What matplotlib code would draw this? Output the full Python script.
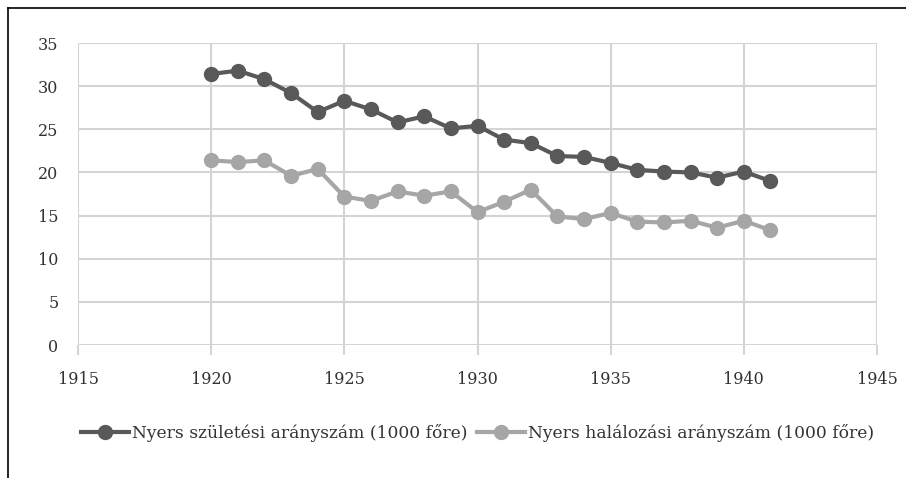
import matplotlib
matplotlib.use("Agg")
import matplotlib.pyplot as plt
from matplotlib.lines import Line2D

years = list(range(1920, 1942))
births = [31.4, 31.8, 30.8, 29.2, 27.0, 28.3, 27.3, 25.8, 26.5, 25.1, 25.4,
          23.8, 23.4, 21.9, 21.8, 21.1, 20.3, 20.1, 20.0, 19.4, 20.1, 19.0]
deaths = [21.4, 21.2, 21.4, 19.6, 20.4, 17.2, 16.7, 17.8, 17.3, 17.8, 15.4,
          16.6, 18.0, 14.9, 14.6, 15.3, 14.3, 14.2, 14.4, 13.6, 14.4, 13.3]
label_births = "Nyers születési arányszám (1000 főre)"
label_deaths = "Nyers halálozási arányszám (1000 főre)"
xticks = [1915, 1920, 1925, 1930, 1935, 1940, 1945]
yticks = [0, 5, 10, 15, 20, 25, 30, 35]

plt.rcParams['font.family'] = ['DejaVu Serif']

W, H = 906, 478
fig = plt.figure(figsize=(W/100, H/100), dpi=100)
ax = fig.add_axes([78/W, 1-345/H, (877-78)/W, (345-43)/H])

grid_c = "#d4d4d4"
ax.plot(years, births, color="#595959", lw=3, marker="o", ms=10, label=label_births, zorder=3)
ax.plot(years, deaths, color="#a6a6a6", lw=3, marker="o", ms=10, label=label_deaths, zorder=3)

ax.set_xlim(1915, 1945)
ax.set_ylim(0, 35)
ax.set_xticks(xticks)
ax.set_yticks(yticks)
ax.grid(True, color=grid_c, lw=1.5)
for s in ax.spines.values():
    s.set_visible(False)
ax.tick_params(axis='y', length=0, pad=14, labelsize=11.5, labelcolor="#333333")
ax.tick_params(axis='x', length=7, width=1.5, color=grid_c, pad=12, labelsize=11.5, labelcolor="#333333")

leg = ax.legend(loc="upper center", bbox_to_anchor=(0.5, -0.21), ncol=2, frameon=False,
                fontsize=12.3, handlelength=2.8, columnspacing=0.6, handletextpad=0.15,
                labelcolor="#333333")

fig.add_artist(Line2D([8/W, 8/W], [0, 1-8/H], color="black", lw=1.2, transform=fig.transFigure))
fig.add_artist(Line2D([8/W, 1], [1-8/H, 1-8/H], color="black", lw=1.2, transform=fig.transFigure))

fig.savefig("out.png", dpi=100)
